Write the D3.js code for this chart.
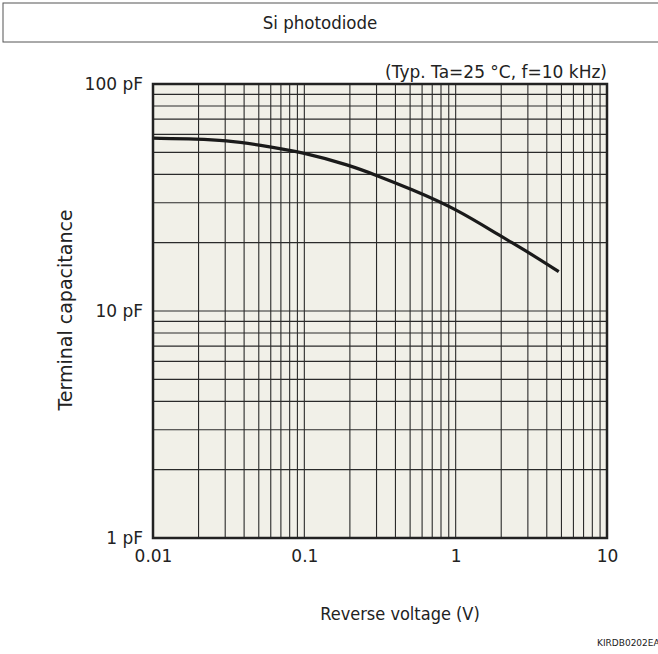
<!DOCTYPE html>
<html>
<head>
<meta charset="utf-8">
<script src="https://cdn.jsdelivr.net/npm/d3@7"></script>
<style>
  body { margin: 0; background: #fff; }
  text { font-family: "DejaVu Sans", Verdana, sans-serif; fill: #222; }
  .cond { font-family: "DejaVu Sans Condensed", "DejaVu Sans", sans-serif; }
</style>
</head>
<body>
<div id="chart"></div>
<script>
// values
var voltage = [0.01, 0.02, 0.03, 0.05, 0.1, 0.2, 0.3, 0.5, 1, 2, 3, 4.8];
var capacitance = [57.7, 57.3, 56.4, 54.0, 49.9, 43.8, 39.6, 34.6, 28.3, 21.3, 18.2, 14.9];

var xTicks = [0.01, 0.1, 1, 10];
var xTickLabels = ["0.01", "0.1", "1", "10"];
var yTicks = [1, 10, 100];
var yTickLabels = ["1 pF", "10 pF", "100 pF"];

var title = "Si photodiode";
var note = "(Typ. Ta=25 °C, f=10 kHz)";
var xTitle = "Reverse voltage (V)";
var yTitle = "Terminal capacitance";
var code = "KIRDB0202EA";

var W = 658, H = 654;
var plot = {left: 153, top: 84, right: 607, bottom: 538};

var data = voltage.map(function(v, i){ return {v: v, c: capacitance[i]}; });

var x = d3.scaleLog().domain([0.01, 10]).range([plot.left, plot.right]);
var y = d3.scaleLog().domain([1, 100]).range([plot.bottom, plot.top]);

var svg = d3.select("#chart").append("svg")
  .attr("width", W)
  .attr("height", H);

// title box
svg.append("rect")
  .attr("x", 3).attr("y", 3)
  .attr("width", W).attr("height", 39)
  .style("fill", "none")
  .style("stroke", "#555")
  .style("stroke-width", 1);

svg.append("text")
  .attr("class", "cond")
  .attr("x", 320).attr("y", 29)
  .style("text-anchor", "middle")
  .style("font-size", "18.5px")
  .text(title);

// plot background
svg.append("rect")
  .attr("x", plot.left).attr("y", plot.top)
  .attr("width", plot.right - plot.left)
  .attr("height", plot.bottom - plot.top)
  .style("fill", "#f1f0e8");

// grid lines: every 1..9 in each decade
var xGrid = [];
[0.01, 0.1, 1].forEach(function(d){
  for (var k = 2; k <= 9; k++) xGrid.push(d * k);
});
xGrid = xGrid.concat([0.1, 1]);
var yGrid = [];
[1, 10].forEach(function(d){
  for (var k = 2; k <= 9; k++) yGrid.push(d * k);
});
yGrid.push(10);

var grid = svg.append("g").attr("class", "grid");
grid.selectAll(".vx").data(xGrid).enter().append("line")
  .attr("x1", function(d){ return x(d); })
  .attr("x2", function(d){ return x(d); })
  .attr("y1", plot.top).attr("y2", plot.bottom)
  .style("stroke", "#2a2a2a")
  .style("stroke-width", 1.1);

grid.selectAll(".hy").data(yGrid).enter().append("line")
  .attr("y1", function(d){ return y(d); })
  .attr("y2", function(d){ return y(d); })
  .attr("x1", plot.left).attr("x2", plot.right)
  .style("stroke", "#2a2a2a")
  .style("stroke-width", 1.1);

// curve
var line = d3.line()
  .x(function(d){ return x(d.v); })
  .y(function(d){ return y(d.c); })
  .curve(d3.curveBasis);

svg.append("path")
  .datum(data)
  .attr("d", line)
  .style("fill", "none")
  .style("stroke", "#1a1a1a")
  .style("stroke-width", 3.2);

// frame
svg.append("rect")
  .attr("x", plot.left).attr("y", plot.top)
  .attr("width", plot.right - plot.left)
  .attr("height", plot.bottom - plot.top)
  .style("fill", "none")
  .style("stroke", "#222")
  .style("stroke-width", 2.5);

// axes (labels only, the grid draws the lines)
var xAxis = d3.axisBottom(x)
  .tickValues(xTicks)
  .tickFormat(function(d, i){ return xTickLabels[i]; })
  .tickSize(0)
  .tickPadding(12);

var yAxis = d3.axisLeft(y)
  .tickValues(yTicks)
  .tickFormat(function(d, i){ return yTickLabels[i]; })
  .tickSize(0)
  .tickPadding(10);

var gx = svg.append("g")
  .attr("transform", "translate(0," + plot.bottom + ")")
  .call(xAxis);
var gy = svg.append("g")
  .attr("transform", "translate(" + plot.left + ",0)")
  .call(yAxis);

[gx, gy].forEach(function(g){
  g.select(".domain").remove();
  g.selectAll("text")
    .style("font-family", "'DejaVu Sans', Verdana, sans-serif")
    .style("font-size", "17px")
    .style("fill", "#222");
});

// annotation
svg.append("text")
  .attr("x", plot.right).attr("y", 78)
  .style("text-anchor", "end")
  .style("font-size", "17px")
  .text(note);

// axis titles
svg.append("text")
  .attr("class", "cond")
  .attr("x", 400).attr("y", 620)
  .style("text-anchor", "middle")
  .style("font-size", "18px")
  .text(xTitle);

svg.append("text")
  .attr("transform", "rotate(-90)")
  .attr("x", -310).attr("y", 72)
  .style("text-anchor", "middle")
  .style("font-size", "19px")
  .text(yTitle);

svg.append("text")
  .attr("x", 597).attr("y", 646)
  .style("font-size", "9px")
  .text(code);
</script>
</body>
</html>
